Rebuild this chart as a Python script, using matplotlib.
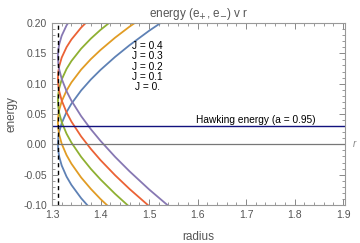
import numpy as np, matplotlib
matplotlib.use('Agg')
import matplotlib.pyplot as plt
from matplotlib.ticker import MultipleLocator, FormatStrFormatter

plt.rcParams['font.family'] = ['Liberation Sans', 'DejaVu Sans']
plt.rcParams['axes.unicode_minus'] = True

# radius samples
radius = [1.3122, 1.313, 1.315, 1.32, 1.33, 1.34, 1.36, 1.38, 1.40, 1.43, 1.46, 1.50, 1.55]
J_labels = ['J = 0.', 'J = 0.1', 'J = 0.2', 'J = 0.3', 'J = 0.4']
# e+ branches
e_plus_J0  = [0.0, 0.0108, 0.0208, 0.0349, 0.0532, 0.0669, 0.0887, 0.1068, 0.1227, 0.1441, 0.1635, 0.1871, 0.2142]
e_plus_J1  = [0.0362, 0.0470, 0.0569, 0.0709, 0.0887, 0.1020, 0.1231, 0.1404, 0.1555, 0.1758, 0.1941, 0.2164, 0.2419]
e_plus_J2  = [0.0724, 0.0832, 0.0930, 0.1069, 0.1244, 0.1373, 0.1576, 0.1742, 0.1887, 0.2079, 0.2252, 0.2489, 0.2700]
e_plus_J3  = [0.1086, 0.1195, 0.1292, 0.1430, 0.1602, 0.1728, 0.1924, 0.2083, 0.2220, 0.2403, 0.2565, 0.2762, 0.3003]
e_plus_J4  = [0.1448, 0.1557, 0.1655, 0.1791, 0.1961, 0.2084, 0.2274, 0.2427, 0.2558, 0.2731, 0.2884, 0.3068, 0.3277]
# e- branches
e_minus_J0 = [0.0, -0.0108, -0.0208, -0.0349, -0.0532, -0.0669, -0.0887, -0.1068, -0.1227, -0.1441, -0.1635, -0.1871, -0.2142]
e_minus_J1 = [0.0362, 0.0254, 0.0153, 0.0009, -0.0178, -0.0319, -0.0546, -0.0734, -0.0902, -0.1127, -0.1332, -0.1582, -0.1870]
e_minus_J2 = [0.0724, 0.0614, 0.0513, 0.0366, 0.0175, 0.0029, -0.0206, -0.0404, -0.0579, -0.0816, -0.1033, -0.1299, -0.1604]
e_minus_J3 = [0.1086, 0.0975, 0.0873, 0.0723, 0.0526, 0.0375, 0.0131, -0.0075, -0.0260, -0.0509, -0.0737, -0.1017, -0.1343]
e_minus_J4 = [0.1448, 0.1337, 0.1232, 0.1079, 0.0876, 0.0720, 0.0466, 0.0250, 0.0057, -0.0206, -0.0446, -0.0742, -0.1083]
horizon_r = 1.3122
hawking_e = 0.0305

COLS = ['#5E81B5', '#E19C24', '#8FB032', '#EB6235', '#8778B3']
GRAY = '#555555'

fig = plt.figure(figsize=(3.6, 2.43), dpi=100)
ax = fig.add_axes([52/360, 1-205/243, 293/360, 182/243])

ups = [e_plus_J0, e_plus_J1, e_plus_J2, e_plus_J3, e_plus_J4]
downs = [e_minus_J0, e_minus_J1, e_minus_J2, e_minus_J3, e_minus_J4]
for c, up, dn in zip(COLS, ups, downs):
    ax.plot(radius, up, color=c, lw=1.3)
    ax.plot(radius, dn, color=c, lw=1.3)

ax.axhline(0, color='#777777', lw=0.9)
ax.axhline(hawking_e, color='#12127E', lw=1.0)
ax.axvline(horizon_r, color='black', lw=1.0, ls=(0, (3, 2.5)))

ax.set_xlim(1.3, 1.904)
ax.set_ylim(-0.10, 0.20)
ax.xaxis.set_major_locator(MultipleLocator(0.1))
ax.xaxis.set_minor_locator(MultipleLocator(0.02))
ax.yaxis.set_major_locator(MultipleLocator(0.05))
ax.yaxis.set_minor_locator(MultipleLocator(0.01))
ax.xaxis.set_major_formatter(FormatStrFormatter('%.1f'))
ax.yaxis.set_major_formatter(FormatStrFormatter('%.2f'))
ax.tick_params(which='both', direction='in', top=True, right=True, colors='#888888',
               labelcolor=GRAY, labelsize=7.5)
ax.tick_params(which='major', length=4, width=0.7)
ax.tick_params(which='minor', length=2, width=0.6)
for s in ax.spines.values():
    s.set_color('#999999'); s.set_linewidth(0.8)

ax.set_title('energy (e$_{+}$, e$_{-}$) v r', fontsize=8.5, color=GRAY, pad=4)
ax.set_xlabel('radius', fontsize=8.5, color=GRAY, labelpad=8)
ax.set_ylabel('energy', fontsize=8.5, color=GRAY, labelpad=4)

for i, lab in enumerate(J_labels[::-1]):
    ax.text(1.497, 0.1625 - i*0.0172, lab, fontsize=7.3, ha='center', va='center', color='black')
ax.text(1.719, 0.040, 'Hawking energy (a = 0.95)', fontsize=7.3, ha='center', va='center', color='black')
ax.text(1.92, 0.0, 'r', fontsize=7, ha='left', va='center', color='#888888', style='italic', clip_on=False)

fig.savefig('out.png', dpi=100)
